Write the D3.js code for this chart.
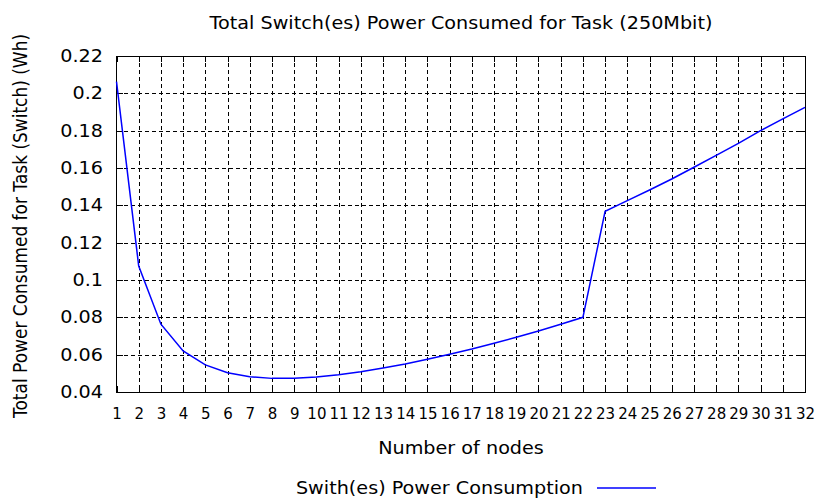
<!DOCTYPE html>
<html><head><meta charset="utf-8">
<script src="https://cdn.jsdelivr.net/npm/d3@7"></script>
<style>
html,body{margin:0;padding:0;background:#fff;}
text{font-family:"DejaVu Sans",sans-serif;fill:#000;}
</style></head>
<body>
<svg id="chart" width="815" height="498"></svg>
<script>
const nodes = [1,2,3,4,5,6,7,8,9,10,11,12,13,14,15,16,17,18,19,20,21,22,23,24,25,26,27,28,29,30,31,32];
const power = [0.2063,0.1075,0.0763,0.0620,0.0545,0.0503,0.0482,0.0473,0.0473,0.0481,0.0493,0.0509,0.0529,0.0550,0.0575,0.0602,0.0630,0.0661,0.0693,0.0727,0.0763,0.0800,0.1368,0.1425,0.1482,0.1541,0.1604,0.1668,0.1732,0.1800,0.1863,0.1925];
const yTicks = [0.04,0.06,0.08,0.1,0.12,0.14,0.16,0.18,0.2,0.22];
const yTickLabels = ["0.04","0.06","0.08","0.1","0.12","0.14","0.16","0.18","0.2","0.22"];
const titleText = "Total Switch(es) Power Consumed for Task (250Mbit)";
const xLabel = "Number of nodes";
const yLabel = "Total Power Consumed for Task (Switch) (Wh)";
const seriesName = "Swith(es) Power Consumption";

const svg = d3.select("#chart");
const L = 116.5, R = 805, T = 56, B = 392;
const SX = 1.13; // horizontal glyph stretch seen in the reference
const x = d3.scaleLinear().domain([1,32]).range([L,R]);
const y = d3.scaleLinear().domain([0.04,0.22]).range([B,T]);

// grid
const grid = svg.append("g").attr("stroke","#000").attr("stroke-width",1).attr("stroke-dasharray","4,3").attr("shape-rendering","crispEdges");
nodes.slice(1,-1).forEach(n=>{
  grid.append("line").attr("x1",Math.round(x(n))+0.5).attr("x2",Math.round(x(n))+0.5).attr("y1",T).attr("y2",B);
});
yTicks.slice(1,-1).forEach(v=>{
  grid.append("line").attr("x1",L).attr("x2",R).attr("y1",Math.round(y(v))+0.5).attr("y2",Math.round(y(v))+0.5);
});

// axes with inward ticks
const ax = svg.append("g").attr("shape-rendering","crispEdges");
const axB = ax.append("g").attr("transform",`translate(0,${B})`)
  .call(d3.axisBottom(x).tickValues(nodes).tickFormat(d3.format("d")).tickSizeInner(-6).tickSizeOuter(0).tickPadding(16));
const axT = ax.append("g").attr("transform",`translate(0,${T})`)
  .call(d3.axisTop(x).tickValues(nodes).tickFormat("").tickSizeInner(-6).tickSizeOuter(0));
const axL = ax.append("g").attr("transform",`translate(${L},0)`)
  .call(d3.axisLeft(y).tickValues(yTicks).tickFormat((d,i)=>yTickLabels[i]).tickSizeInner(-6).tickSizeOuter(0));
const axR = ax.append("g").attr("transform",`translate(${R},0)`)
  .call(d3.axisRight(y).tickValues(yTicks).tickFormat("").tickSizeInner(-6).tickSizeOuter(0));
ax.selectAll(".domain").remove();
ax.selectAll(".tick line").attr("stroke","#000");
axB.selectAll("text").style("font-size","15px").attr("fill","#000");
axL.selectAll("text").style("font-size","17px").attr("fill","#000")
  .attr("x",0).attr("transform",`translate(-13.5,0) scale(${SX},1)`);

svg.append("rect").attr("x",L).attr("y",T).attr("width",R-L).attr("height",B-T)
  .attr("fill","none").attr("stroke","#000").attr("stroke-width",1).attr("shape-rendering","crispEdges");

// line
const line = d3.line().x((d,i)=>x(nodes[i])).y(d=>y(d));
svg.append("path").datum(power).attr("d",line).attr("fill","none").attr("stroke","#0000ff").attr("stroke-width",1.5);

// titles
svg.append("text").attr("transform",`translate(461,29) scale(${SX},1)`).attr("text-anchor","middle").style("font-size","17px").text(titleText);
svg.append("text").attr("transform",`translate(461,454) scale(${SX},1)`).attr("text-anchor","middle").style("font-size","17px").text(xLabel);
svg.append("text").attr("transform",`translate(27,226) scale(${SX},1) rotate(-90)`).attr("text-anchor","middle").style("font-size","17px").text(yLabel);

// legend
svg.append("text").attr("transform",`translate(583,494) scale(${SX},1)`).attr("text-anchor","end").style("font-size","17px").text(seriesName);
svg.append("line").attr("x1",597).attr("x2",656).attr("y1",488).attr("y2",488).attr("stroke","#0000ff").attr("stroke-width",1.5);
</script>
</body></html>
